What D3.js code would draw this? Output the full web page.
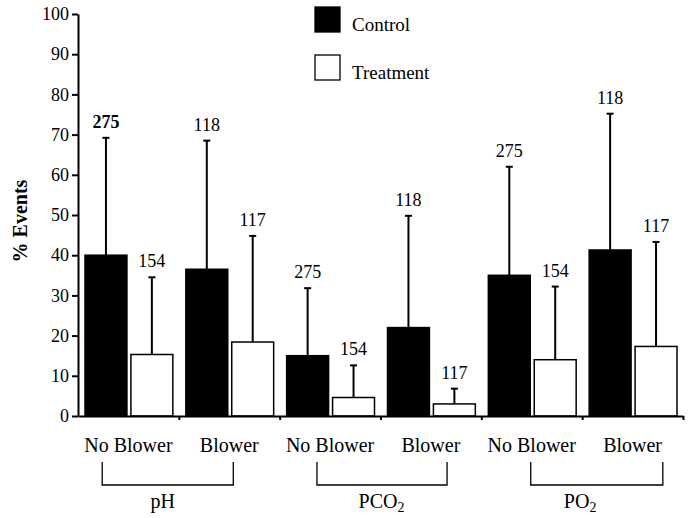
<!DOCTYPE html>
<html>
<head>
<meta charset="utf-8">
<style>
  body { margin: 0; background: #fff; }
</style>
</head>
<body>
<div id="container"></div>
<script src="https://d3js.org/d3.v7.js"></script>
<script>

const serif = '"Liberation Serif", "Times New Roman", Times, serif';

// Categories along the x axis (two per measurement)
const categories = ["pH-NB", "pH-B", "PCO2-NB", "PCO2-B", "PO2-NB", "PO2-B"];
const categoryLabels = ["No Blower", "Blower", "No Blower", "Blower", "No Blower", "Blower"];
const series = ["Control", "Treatment"];

// % events
const controlValues   = [40, 36.5, 15, 22, 35, 41.3];
const treatmentValues = [15.3, 18.4, 4.6, 3, 14, 17.3];
// top of the (upward only) error bars
const controlErrTop   = [69.2, 68.5, 31.8, 49.8, 62, 75.2];
const treatmentErrTop = [34.5, 44.8, 12.6, 6.8, 32.2, 43.3];
// n printed over each bar
const controlN   = ["275", "118", "275", "118", "275", "118"];
const treatmentN = ["154", "117", "154", "117", "154", "117"];

const yTicks = [0, 10, 20, 30, 40, 50, 60, 70, 80, 90, 100];

// groups under the axis, spans given in category units
const groupNames = ["pH", "PCO2", "PO2"];
const groupSpanStart = [0.24, 2.37, 4.49];
const groupSpanEnd   = [1.54, 3.66, 5.80];
const groupLabelAt   = [0.84, 3.01, 4.98];

// chart dimensions
const width = 691;
const height = 518;
const marginLeft = 78;
const marginRight = 8;
const marginTop = 14;
const marginBottom = 102;

const svg = d3.create("svg")
    .attr("width", width)
    .attr("height", height)
    .style("display", "block")
    .style("font-family", serif);

const x = d3.scaleBand()
    .domain(categories)
    .range([marginLeft, width - marginRight])
    .padding(0);

// continuous version of x, in category units, for ticks and brackets
const xc = d3.scaleLinear()
    .domain([0, categories.length])
    .range([marginLeft, width - marginRight]);

const xSub = d3.scaleBand()
    .domain(series)
    .range([7, x.bandwidth() - 6])
    .paddingInner(0.087);

const y = d3.scaleLinear()
    .domain([0, 100])
    .range([height - marginBottom, marginTop]);

// build rows
const rows = [];
categories.forEach((c, i) => {
  rows.push({cat: c, s: "Control", v: controlValues[i], e: controlErrTop[i], n: controlN[i], i});
  rows.push({cat: c, s: "Treatment", v: treatmentValues[i], e: treatmentErrTop[i], n: treatmentN[i], i});
});
const cx = d => x(d.cat) + xSub(d.s) + xSub.bandwidth() / 2;

// error bars (drawn first so bars sit on top of the stem)
const err = svg.append("g").attr("stroke", "#000").attr("stroke-width", 2);
err.selectAll("line.stem")
  .data(rows)
  .join("line")
    .attr("class", "stem")
    .attr("x1", cx).attr("x2", cx)
    .attr("y1", d => y(d.v)).attr("y2", d => y(d.e));
err.selectAll("line.cap")
  .data(rows)
  .join("line")
    .attr("class", "cap")
    .attr("x1", d => cx(d) - 3.5).attr("x2", d => cx(d) + 3.5)
    .attr("y1", d => y(d.e)).attr("y2", d => y(d.e));

// bars
svg.append("g")
  .selectAll("rect")
  .data(rows)
  .join("rect")
    .attr("x", d => x(d.cat) + xSub(d.s))
    .attr("y", d => y(d.v))
    .attr("width", xSub.bandwidth())
    .attr("height", d => y(0) - y(d.v))
    .attr("fill", d => d.s === "Control" ? "#000" : "#fff")
    .attr("stroke", "#000")
    .attr("stroke-width", 1.5);

// n labels
svg.append("g")
  .selectAll("text")
  .data(rows)
  .join("text")
    .attr("x", cx)
    .attr("y", d => y(d.e) - 10)
    .attr("text-anchor", "middle")
    .attr("font-size", 18)
    .attr("font-weight", d => (d.i === 0 && d.s === "Control") ? "bold" : null)
    .text(d => d.n);

// y axis
svg.append("g")
    .attr("transform", `translate(${marginLeft},0)`)
    .call(d3.axisLeft(y).tickValues(yTicks).tickSize(6).tickSizeOuter(0).tickPadding(3))
    .style("font-family", serif)
    .attr("font-size", 18)
    .call(g => g.select(".domain").attr("stroke-width", 2))
    .call(g => g.selectAll(".tick line").attr("stroke-width", 2))
    .call(g => g.selectAll(".tick text").attr("fill", "#000"));

// x axis: line with small ticks at category boundaries
svg.append("g")
    .attr("transform", `translate(0,${y(0)})`)
    .call(d3.axisBottom(xc).tickValues(d3.range(1, categories.length + 1)).tickSize(4).tickSizeOuter(0).tickFormat(""))
    .call(g => g.select(".domain").attr("stroke-width", 2))
    .call(g => g.selectAll(".tick line").attr("stroke-width", 2));

// category labels
svg.append("g")
  .selectAll("text")
  .data(categories)
  .join("text")
    .attr("x", d => x(d) + x.bandwidth() / 2)
    .attr("y", 452)
    .attr("text-anchor", "middle")
    .attr("font-size", 20)
    .text((d, i) => categoryLabels[i]);

// group brackets
const br = svg.append("g").attr("stroke", "#000").attr("stroke-width", 1.3).attr("fill", "none");
br.selectAll("path")
  .data(groupNames)
  .join("path")
    .attr("d", (d, i) => `M${xc(groupSpanStart[i])},462V485H${xc(groupSpanEnd[i])}V462`);

const gl = svg.append("g")
  .selectAll("text")
  .data(groupNames)
  .join("text")
    .attr("x", (d, i) => xc(groupLabelAt[i]))
    .attr("y", 508)
    .attr("text-anchor", "middle")
    .attr("font-size", 20);
gl.each(function(d) {
  const t = d3.select(this);
  if (d.endsWith("2")) {
    t.append("tspan").text(d.slice(0, -1));
    t.append("tspan").attr("font-size", 14).attr("dy", 4).text("2");
  } else {
    t.text(d);
  }
});

// y axis title
svg.append("text")
    .attr("transform", `translate(27,221) rotate(-90)`)
    .attr("text-anchor", "middle")
    .attr("font-size", 20)
    .attr("font-weight", "bold")
    .text("% Events");

// legend
const legend = svg.append("g")
  .selectAll("g")
  .data(series)
  .join("g")
    .attr("transform", (d, i) => `translate(315,${7 + i * 48})`);
legend.append("rect")
    .attr("width", 25).attr("height", 25)
    .attr("fill", d => d === "Control" ? "#000" : "#fff")
    .attr("stroke", "#000")
    .attr("stroke-width", 1.3);
legend.append("text")
    .attr("x", 37).attr("y", 24)
    .attr("font-size", 19)
    .text(d => d);

document.getElementById("container").append(svg.node());
</script>
</body>
</html>
